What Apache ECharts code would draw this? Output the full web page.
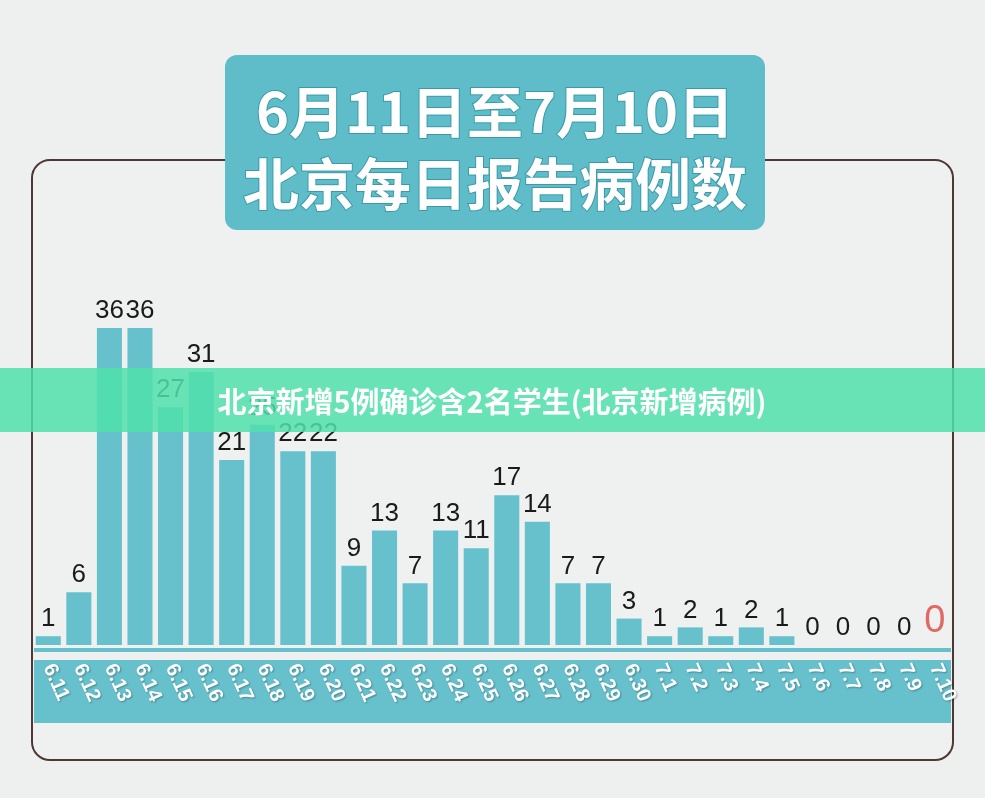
<!DOCTYPE html>
<html><head><meta charset="utf-8">
<script src="https://cdn.jsdelivr.net/npm/echarts@6/dist/echarts.min.js"></script>
<style>html,body{margin:0;padding:0;background:#eef0ef}#c{width:985px;height:798px}</style>
</head><body><div id="c"></div>
<script>
const categories = ['6.11','6.12','6.13','6.14','6.15','6.16','6.17','6.18','6.19','6.20','6.21','6.22','6.23','6.24','6.25','6.26','6.27','6.28','6.29','6.30','7.1','7.2','7.3','7.4','7.5','7.6','7.7','7.8','7.9','7.10'];
const cases = [1,6,36,36,27,31,21,25,22,22,9,13,7,13,11,17,14,7,7,3,1,2,1,2,1,0,0,0,0,0];
const titleLines = ['6月11日至7月10日','北京每日报告病例数'];
const bannerText = '北京新增5例确诊含2名学生(北京新增病例)';
const ch = echarts.init(document.getElementById('c'));
const F = '"Noto Sans CJK SC", "Liberation Sans", sans-serif';
ch.setOption({
  backgroundColor:'#eef0ef',
  animation:false,
  graphic:[
    {type:'rect',z:-10,shape:{x:32,y:160,width:921,height:600,r:18},style:{fill:'#eff1f1',stroke:'#4e3833',lineWidth:2}},
    {type:'rect',z:-5,shape:{x:34,y:660,width:917,height:63},style:{fill:'#67c1cd'}},
    {type:'rect',z:-5,shape:{x:34,y:648,width:917,height:4},style:{fill:'#67c1cd'}},
    {type:'rect',z:5,shape:{x:225,y:55,width:540,height:175,r:12},style:{fill:'#5fbdca'}},
    {type:'text',z:6,x:495,y:112,style:{text:titleLines[0],fill:'#fff',font:'bold 56px '+F,align:'center',verticalAlign:'middle',stroke:'#3a9aa8',lineWidth:2}},
    {type:'text',z:6,x:495,y:184,style:{text:titleLines[1],fill:'#fff',font:'bold 56px '+F,align:'center',verticalAlign:'middle',stroke:'#3a9aa8',lineWidth:2}},
    {type:'rect',z:20,shape:{x:0,y:368,width:985,height:64},style:{fill:'rgba(80,225,170,0.85)'}},
    {type:'text',z:21,x:492,y:402,style:{text:bannerText,fill:'#fff',font:'bold 29px '+F,align:'center',verticalAlign:'middle'}}
  ],
  grid:{left:33,right:35,top:328,bottom:153},
  xAxis:{type:'category',data:categories,axisLine:{show:false},axisTick:{show:false},
    axisLabel:{interval:0,rotate:-66,margin:20,color:'#fff',fontSize:20,fontFamily:'Liberation Sans',fontWeight:'bold',
      textShadowColor:'rgba(0,0,0,0.3)',textShadowBlur:2,textShadowOffsetX:1,textShadowOffsetY:1}},
  yAxis:{type:'value',min:0,max:36,show:false,splitLine:{show:false}},
  series:[{type:'bar',data:cases.map((v,i)=>i===cases.length-1?{value:v,label:{color:'#e06a62',fontSize:38}}:v),
    barCategoryGap:'18%',itemStyle:{color:'#67c1cd'},
    label:{show:true,position:'top',distance:4,color:'#1a1a1a',fontSize:26,fontFamily:'Liberation Sans'}}]
});
</script></body></html>
